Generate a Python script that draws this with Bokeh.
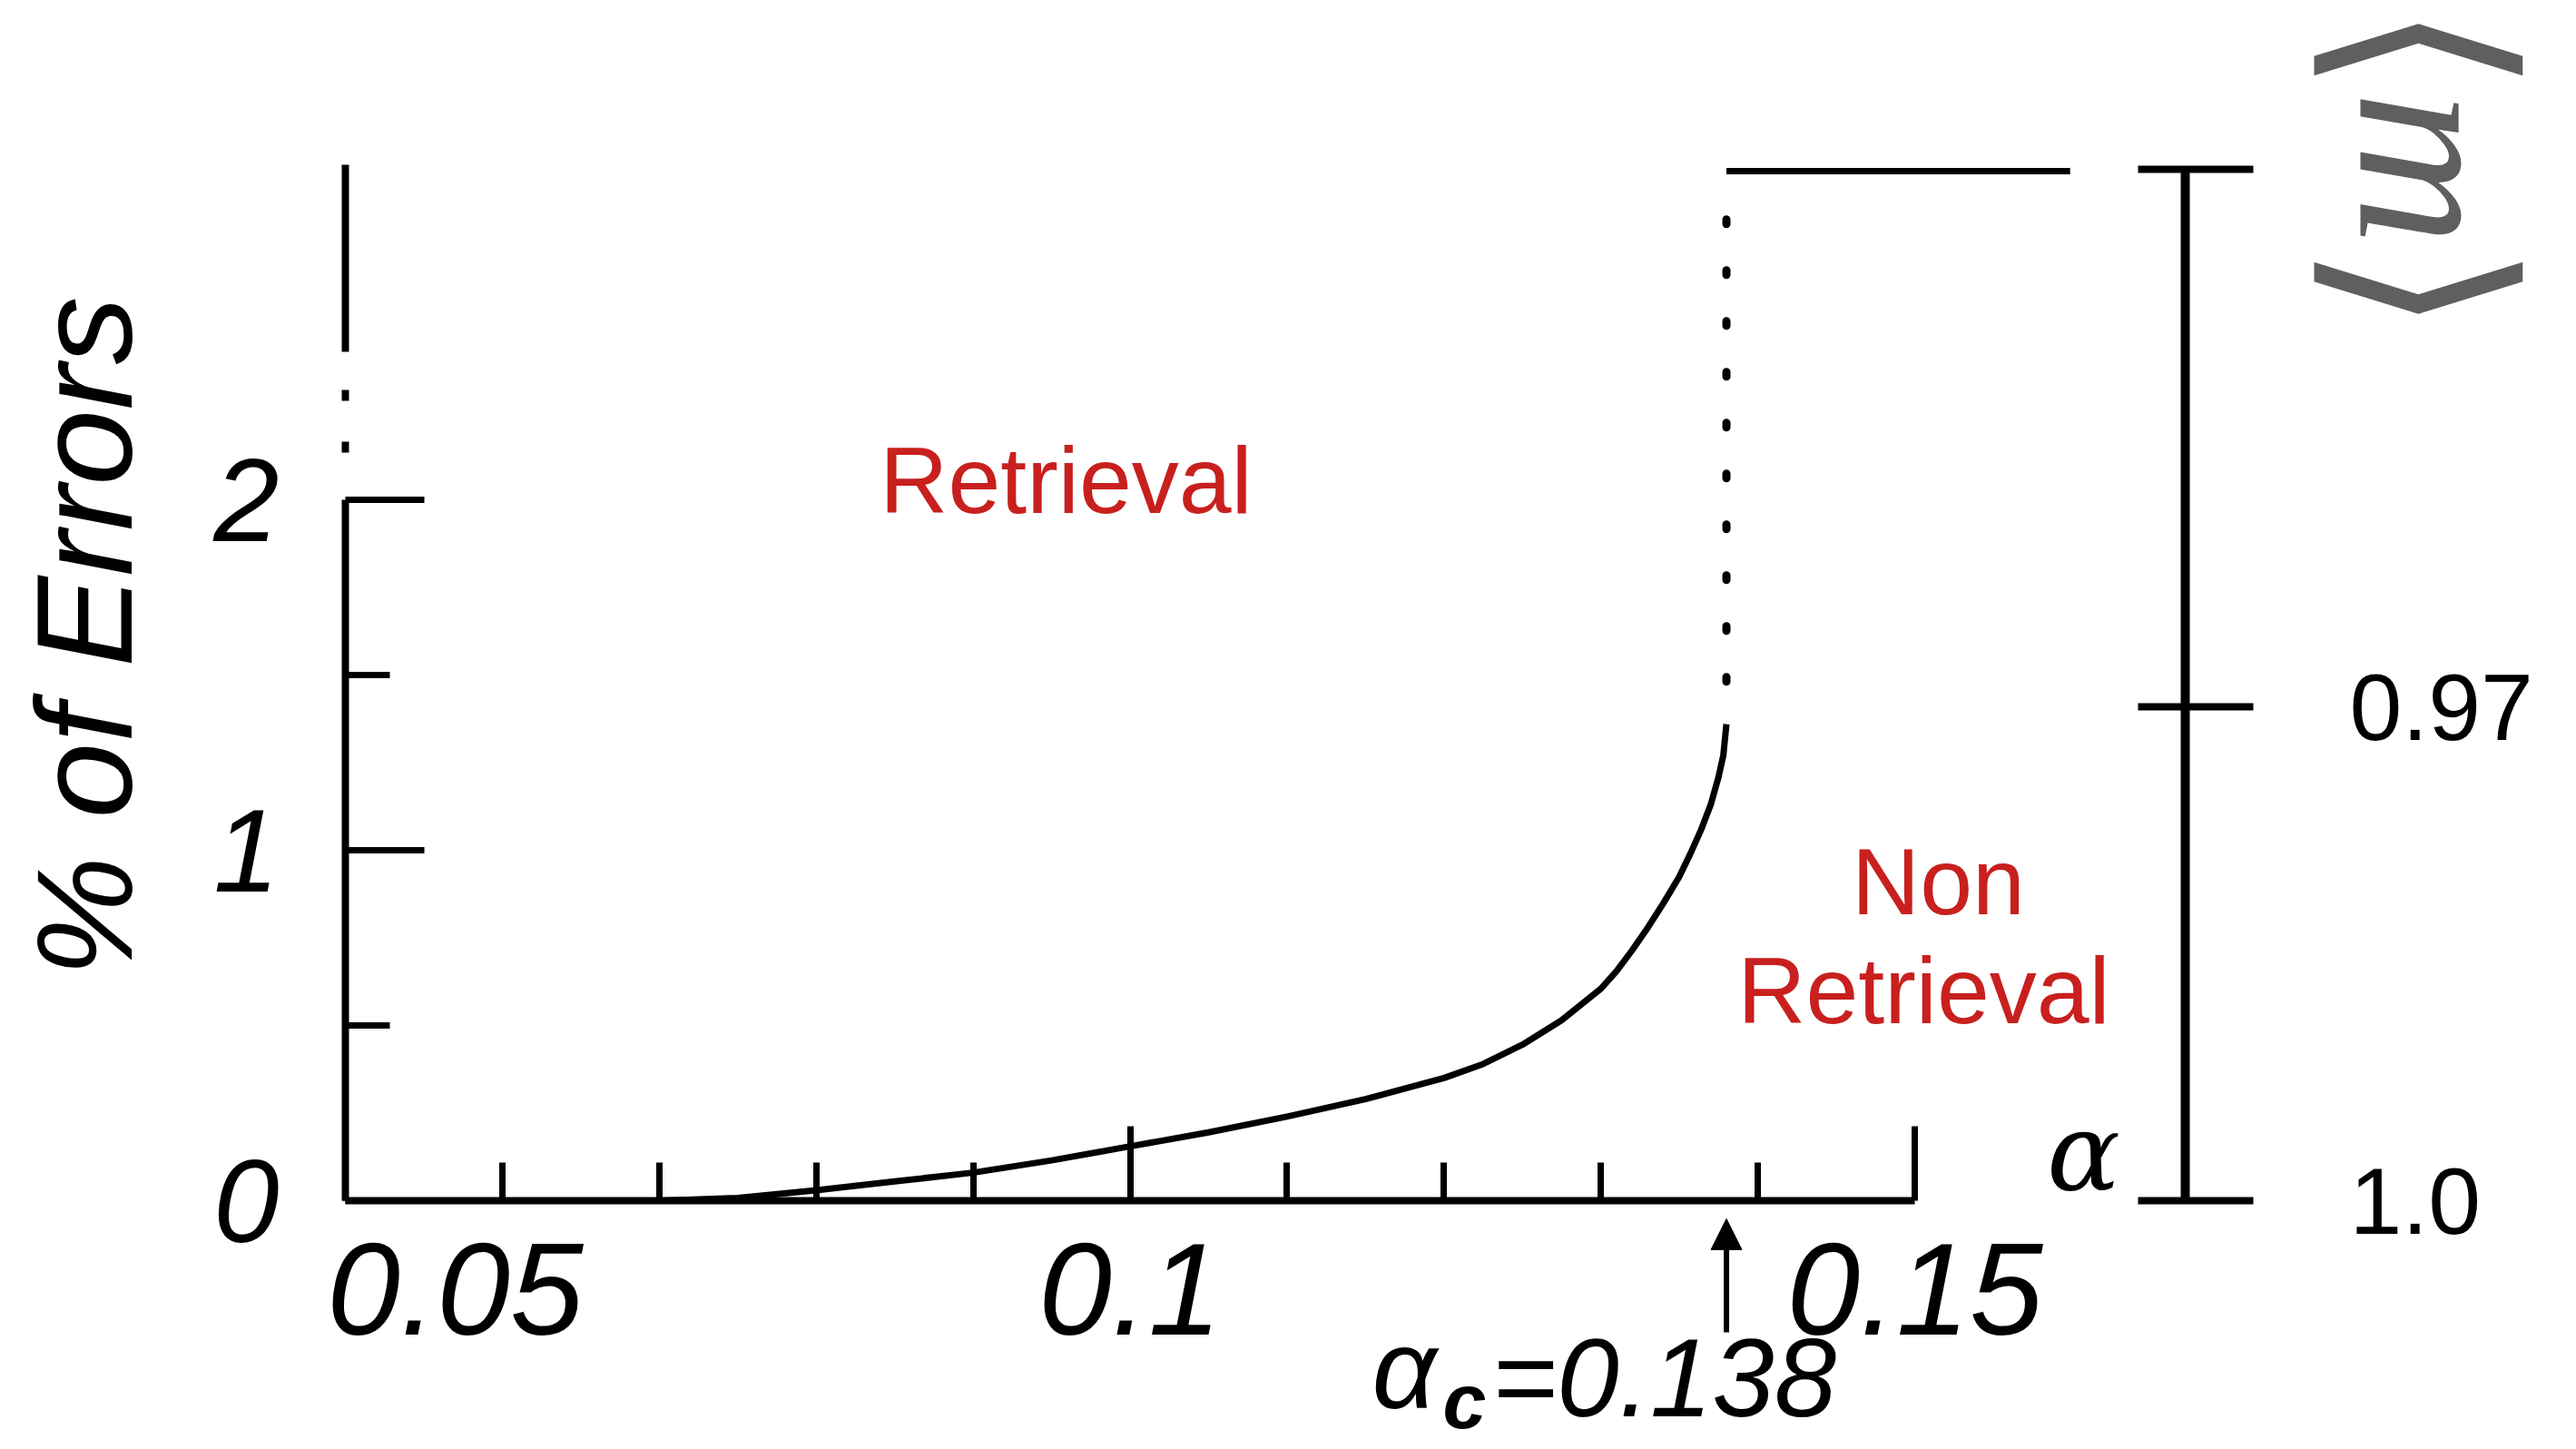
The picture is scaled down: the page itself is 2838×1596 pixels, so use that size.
import math
from bokeh.plotting import figure
from bokeh.models import (Range1d, LinearAxis, FixedTicker, Arrow, NormalHead)
from bokeh.core.properties import value
from bokeh.embed import file_html
from bokeh.resources import INLINE

# ---------------- data ----------------
alpha_curve = [0.070, 0.075, 0.080, 0.085, 0.090, 0.095, 0.100, 0.105, 0.110,
               0.115, 0.120, 0.1225, 0.125, 0.1275, 0.130, 0.131, 0.132, 0.133,
               0.134, 0.135, 0.1357, 0.1364, 0.137, 0.1375, 0.1378, 0.138]
err_curve = [0.0, 0.008, 0.03, 0.055, 0.08, 0.115, 0.155, 0.195, 0.24,
             0.29, 0.35, 0.39, 0.445, 0.515, 0.605, 0.655, 0.715, 0.78,
             0.85, 0.925, 0.99, 1.06, 1.13, 1.21, 1.27, 1.36]

alpha_c = 0.138
jump_dots_err = [2.80, 1.47]            # dotted jump at alpha_c
plateau_alpha = [0.138, 0.1599]         # horizontal line after the jump
plateau_err = [2.938, 2.938]

x_major_ticks = [0.05, 0.1, 0.15]
x_major_labels = ["\u2007\u2007\u20070.05", "0.1", "0.15"]
x_minor_ticks = [0.06, 0.07, 0.08, 0.09, 0.11, 0.12, 0.13, 0.14]
y_major_ticks = [0, 1, 2]
y_minor_ticks = [0.5, 1.5]
m_ticks = [0.93735, 0.97, 1.0]
m_labels = ["", "0.97", "1.0"]

# ---------------- figure ----------------
W, H = 2838, 1596
PX_X = 17290.0   # px per unit alpha
PX_Y = 386.0     # px per unit of % errors
X0_SCREEN, Y0_SCREEN = 380.0, 1322.0   # position of (0.05, 0) inside the canvas

def ax(px):
    return 0.05 + (px - X0_SCREEN) / PX_X

def ay(py):
    return (Y0_SCREEN - py) / PX_Y

x_range = Range1d(ax(0), ax(W))
y_range = Range1d(ay(H), ay(0))

p = figure(width=W, height=H, x_range=x_range, y_range=y_range,
           x_axis_type=None, y_axis_type=None, output_backend="svg",
           toolbar_location=None, min_border=0, title=None)
p.min_border_left = p.min_border_right = p.min_border_top = p.min_border_bottom = 0
p.outline_line_color = None
p.background_fill_color = "white"
p.border_fill_color = "white"

# right axis scale (overlap m)
M_PX = 544.0 / 0.03
p.extra_y_ranges = {"m": Range1d(1.0 + (H - Y0_SCREEN) / M_PX, 1.0 - Y0_SCREEN / M_PX)}

FONT = "Liberation Sans"

# left axis
yax = LinearAxis(fixed_location=0.05, bounds=(0, 2.955),
                 ticker=FixedTicker(ticks=y_major_ticks, minor_ticks=y_minor_ticks),
                 major_tick_in=87, major_tick_out=0, minor_tick_in=49, minor_tick_out=0,
                 axis_line_width=8, major_tick_line_width=7, minor_tick_line_width=7,
                 axis_line_dash="772 52 12 45 12 42 400",
                 major_label_standoff=73, major_label_text_font=FONT,
                 major_label_text_font_style="italic",
                 major_label_text_font_size="130px", major_label_text_color="black")
p.add_layout(yax, "left")

# bottom axis
xax = LinearAxis(fixed_location=0, bounds=(0.05, 0.15),
                 ticker=FixedTicker(ticks=x_major_ticks, minor_ticks=x_minor_ticks),
                 major_tick_in=82, major_tick_out=0, minor_tick_in=42, minor_tick_out=0,
                 axis_line_width=8, major_tick_line_width=7, minor_tick_line_width=7,
                 major_label_overrides={t: l for t, l in zip(x_major_ticks, x_major_labels)},
                 major_label_standoff=16, major_label_text_font=FONT,
                 major_label_text_font_style="italic",
                 major_label_text_font_size="145px", major_label_text_color="black")
p.add_layout(xax, "below")

# right axis (overlap)
m_over = {(int(t) if t == int(t) else t): l for t, l in zip(m_ticks, m_labels)}
rax = LinearAxis(y_range_name="m", fixed_location=ax(2407), bounds=(m_ticks[0], 1.0),
                 ticker=FixedTicker(ticks=m_ticks, minor_ticks=[]),
                 major_tick_in=52, major_tick_out=75, minor_tick_in=0, minor_tick_out=0,
                 axis_line_width=10, major_tick_line_width=8,
                 major_label_overrides=m_over,
                 major_label_standoff=106, major_label_text_font=FONT,
                 major_label_text_font_size="104px", major_label_text_color="black")
p.add_layout(rax, "right")

# curve
p.line(alpha_curve, err_curve, line_color="black", line_width=7, line_join="round")
# dotted jump
p.line([alpha_c, alpha_c], jump_dots_err, line_color="black", line_width=9,
       line_dash="5 51", line_cap="round")
# plateau
p.line(plateau_alpha, plateau_err, line_color="black", line_width=7)

# arrow to alpha_c
p.add_layout(Arrow(end=NormalHead(size=34, fill_color="black", line_color="black"),
                   x_start=alpha_c, y_start=ay(1467), x_end=alpha_c, y_end=ay(1342),
                   line_width=6, line_color="black"))

# texts
p.text(x=[ax(92)], y=[ay(701)], text=["% of Errors"], angle=math.pi / 2,
       text_font=value(FONT), text_font_style="italic", text_font_size="150px",
       text_align="center", text_baseline="middle", text_color="black")

p.text(x=[ax(1511)], y=[ay(1507)], text=["\u03b1"],
       text_font=value(FONT), text_font_style="italic", text_font_size="125px",
       text_align="left", text_baseline="middle", text_color="black")
p.text(x=[ax(1589)], y=[ay(1542)], text=["c"],
       text_font=value(FONT), text_font_style="bold italic", text_font_size="86px",
       text_align="left", text_baseline="middle", text_color="black")
p.text(x=[ax(1643)], y=[ay(1517)], text=["=0.138"],
       text_font=value(FONT), text_font_style="italic", text_font_size="123px",
       text_align="left", text_baseline="middle", text_color="black")

p.text(x=[ax(2295)], y=[ay(1269)], text=["\u03b1"],
       text_font=value("DejaVu Serif"), text_font_style="italic", text_font_size="120px",
       text_align="center", text_baseline="middle", text_color="black")

RED = "#c8201e"
p.text(x=[ax(1174), ax(2135), ax(2119)], y=[ay(528), ay(970), ay(1090)],
       text=["Retrieval", "Non", "Retrieval"],
       text_font=value(FONT), text_font_size="104px",
       text_align="center", text_baseline="middle", text_color=RED)

# <m> written sideways (top of the right scale)
GRAY = "#5f5f5f"
p.text(x=[ax(2672), ax(2672)], y=[ay(53), ay(318)], text=["\u27e8", "\u27e9"],
       angle=-math.pi / 2, text_font=value("DejaVu Sans"), text_font_size="258px",
       text_align="center", text_baseline="middle", text_color=GRAY)
p.text(x=[ax(2678)], y=[ay(185)], text=["m"], angle=-math.pi / 2,
       text_font=value("Liberation Serif"), text_font_style="italic", text_font_size="235px",
       text_align="center", text_baseline="middle", text_color=GRAY)

open("out.html", "w").write(file_html(p, INLINE))
